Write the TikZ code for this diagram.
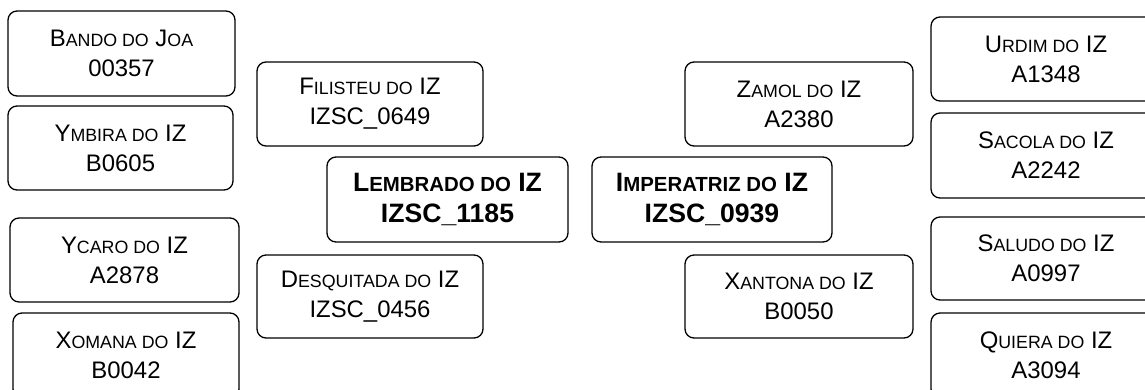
\documentclass[tikz,border=0pt]{standalone}
\usepackage{fontspec}
\setmainfont{Liberation Sans}
\newcommand\smc[1]{{\fontsize{17.8}{30}\selectfont #1}}
\newcommand\smcb[1]{{\fontsize{20.4}{31}\selectfont #1}}
\begin{document}
\begin{tikzpicture}[x=1pt,y=-1pt,
  pbox/.style={draw, line width=1.3pt, rounded corners=9pt, anchor=north west,
    inner sep=0pt, outer sep=0pt, align=center,
    font=\fontsize{23.9}{30}\selectfont},
  bbox/.style={pbox, font=\fontsize{26.6}{31}\selectfont\bfseries}]
\clip (0,0) rectangle (1145,389);
% generation 2 (left)
\node[pbox, minimum width=227pt, minimum height=85pt] (bando) at (8,11) {B\smc{ANDO DO} J\smc{OA}\\00357};
\node[pbox, minimum width=225pt, minimum height=84pt] (ymbira) at (8,106) {Y\smc{MBIRA DO} IZ\\B0605};
\node[pbox, minimum width=229pt, minimum height=84pt] (ycaro) at (10,218) {Y\smc{CARO DO} IZ\\A2878};
\node[pbox, minimum width=226pt, minimum height=85pt] (xomana) at (13,313) {X\smc{OMANA DO} IZ\\B0042};
% generation 1 (left)
\node[pbox, minimum width=226pt, minimum height=84pt] (filisteu) at (257,62) {F\smc{ILISTEU DO} IZ\\IZSC\_0649};
\node[pbox, minimum width=226pt, minimum height=83pt] (desquitada) at (257,255) {D\smc{ESQUITADA DO} IZ\\IZSC\_0456};
% centre
\node[bbox, minimum width=241pt, minimum height=85pt] (lembrado) at (327,157) {L\smcb{EMBRADO DO} IZ\\IZSC\_1185};
\node[bbox, minimum width=240pt, minimum height=85pt] (imperatriz) at (592,157) {I\smcb{MPERATRIZ DO} IZ\\IZSC\_0939};
% generation 1 (right)
\node[pbox, minimum width=228pt, minimum height=84pt] (zamol) at (685,62) {Z\smc{AMOL DO} IZ\\A2380};
\node[pbox, minimum width=228pt, minimum height=83pt] (xantona) at (685,255) {X\smc{ANTONA DO} IZ\\B0050};
% generation 2 (right)
\node[pbox, minimum width=230pt, minimum height=84pt] (urdim) at (931,17) {U\smc{RDIM DO} IZ\\A1348};
\node[pbox, minimum width=230pt, minimum height=85pt] (sacola) at (931,113) {S\smc{ACOLA DO} IZ\\A2242};
\node[pbox, minimum width=230pt, minimum height=83pt] (saludo) at (931,217) {S\smc{ALUDO DO} IZ\\A0997};
\node[pbox, minimum width=230pt, minimum height=85pt] (quiera) at (931,313) {Q\smc{UIERA DO} IZ\\A3094};
\end{tikzpicture}
\end{document}
